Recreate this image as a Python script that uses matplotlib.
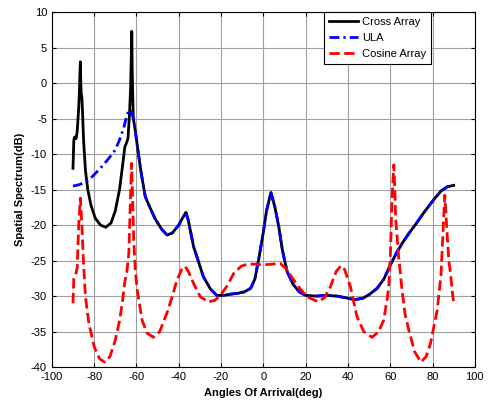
import matplotlib
matplotlib.use("Agg")
import matplotlib.pyplot as plt

plt.rcParams['font.family'] = ['Liberation Sans', 'DejaVu Sans']
plt.rcParams['axes.unicode_minus'] = False

# Cross Array spectrum (diverges from ULA only near the two left peaks)
cross_x = [-90, -89.6, -89.2, -88.5, -88, -87.3, -87, -86.7, -86.5, -86.3, -86.1, -85.8,
           -85.5, -85, -84.1, -83, -81.5, -79.5, -77, -74.5, -72, -70, -68, -66.5,
           -65.5, -64.8, -64, -63.3, -62.8, -62.4, -62.2, -62, -61.8, -61.5]
cross_y = [-12.0, -8.0, -7.6, -7.8, -6.8, -3.5, -1.5, 1.5, 3.0, 0.0, -1.5, -2.0,
           -4.0, -8.0, -12.3, -15.0, -17.2, -19.0, -20.0, -20.3, -19.7, -18.0, -15.0, -11.5,
           -9.0, -8.5, -7.8, -4.5, -1.0, 4.0, 7.3, 2.0, -1.0, -4.9]

# ULA spectrum
ula_x = [-90, -87, -84, -81, -78, -75, -72, -70, -68, -66, -64.5, -63.5, -62.5, -61.5,
         -60.5, -59.5, -58.2, -57, -55.8, -53.5, -51, -48, -45.5, -43, -40, -38, -36.6,
         -35.5, -33, -30.6, -28.3, -25, -22, -19, -15, -12, -9, -6, -4, -2, 0, 1.5, 3.6,
         5.5, 7.3, 9, 11.2, 14, 17, 20, 25, 30, 35, 40, 43, 47, 50, 53.8, 57, 60.1, 63,
         66, 69, 72, 76, 80.6, 84, 87, 90]
ula_y = [-14.5, -14.3, -13.9, -13.2, -12.3, -11.3, -10.2, -9.4, -8.0, -6.3, -4.5, -3.8,
         -4.0, -4.9, -6.8, -9.0, -11.8, -14.0, -16.0, -17.6, -19.2, -20.6, -21.4, -21.1,
         -20.0, -18.9, -18.2, -19.3, -23.0, -25.2, -27.3, -29.0, -29.9, -29.9, -29.7,
         -29.6, -29.4, -28.9, -27.6, -24.5, -21.0, -18.0, -15.4, -17.5, -20.2, -23.5,
         -26.5, -28.3, -29.4, -29.9, -30.0, -29.9, -30.0, -30.3, -30.5, -30.3, -29.8,
         -28.9, -27.6, -25.6, -23.9, -22.4, -21.1, -19.9, -18.2, -16.4, -15.2, -14.6, -14.4]

# Cosine Array spectrum
cos_x = [-90, -89.6, -88.8, -88, -87.3, -86.5, -85.8, -85, -84.1, -82.5, -80, -77.5, -75,
         -72.5, -70, -68, -66.7, -65.5, -64.5, -63.6, -63, -62.3, -61.8, -61.3, -60.5,
         -59.6, -57.3, -55, -52, -49, -45.6, -43, -40.8, -38.5, -37, -35.5, -33, -29.8,
         -26, -23, -20.3, -17, -14, -10.5, -7.7, -4, 0, 4, 8, 11, 14.3, 17.5, 20.7, 26,
         29, 31.7, 34.5, 36.8, 38.5, 41.2, 44.3, 47.5, 51.4, 54.5, 56.9, 58.5, 59.3, 60.1,
         60.9, 61.7, 62.2, 62.5, 64, 65.6, 67, 68.8, 71.5, 74.5, 77, 79, 82.2, 84, 84.8,
         85.8, 86.9, 87.7, 88.5, 89.3, 90]
cos_y = [-31.0, -27.5, -27.0, -26.0, -20.0, -16.2, -20.0, -25.4, -30.1, -33.8, -37.1,
         -38.8, -39.3, -38.5, -36.2, -33.5, -31.0, -28.0, -26.5, -24.0, -18.0, -11.3,
         -16.0, -22.0, -26.5, -29.2, -33.4, -35.2, -35.8, -35.0, -32.4, -30.0, -27.7,
         -26.2, -25.8, -26.5, -28.2, -30.1, -30.8, -30.6, -29.9, -28.5, -26.8, -25.8,
         -25.5, -25.5, -25.6, -25.5, -25.4, -26.2, -27.7, -29.0, -30.1, -30.8, -30.2,
         -28.7, -26.5, -25.7, -26.3, -28.7, -32.9, -35.0, -35.8, -35.0, -33.4, -30.5,
         -28.7, -24.0, -16.0, -11.5, -15.0, -18.8, -24.5, -29.2, -32.5, -34.8, -37.8,
         -39.3, -38.5, -36.7, -32.0, -27.0, -22.0, -15.8, -21.2, -24.9, -26.8, -29.2, -31.0]

x_ticks = [-100, -80, -60, -40, -20, 0, 20, 40, 60, 80, 100]
y_ticks = [10, 5, 0, -5, -10, -15, -20, -25, -30, -35, -40]

# The cross array follows the ULA curve once past the -62 deg peak
full_cross_x = cross_x + [x for x in ula_x if x > cross_x[-1]]
full_cross_y = cross_y + [y for x, y in zip(ula_x, ula_y) if x > cross_x[-1]]

fig = plt.figure(figsize=(4.89, 4.03), dpi=100)
ax = fig.add_axes([0.106, 0.089, 0.865, 0.881])

ax.plot(full_cross_x, full_cross_y, color='black', lw=2.0, label='Cross Array')
ax.plot(ula_x, ula_y, color='#0000ff', lw=2.0, dashes=(3.5, 1.5, 0.8, 1.5), label='ULA')
ax.plot(cos_x, cos_y, color='#ff0000', lw=2.0, linestyle='--', label='Cosine Array')

ax.set_xlim(-100, 100)
ax.set_ylim(-40, 10)
ax.set_xticks(x_ticks)
ax.set_yticks(y_ticks)
ax.grid(True, color='#a0a0a0', lw=0.8, linestyle='-')
ax.set_axisbelow(True)
ax.tick_params(direction='in', top=True, right=True, labelsize=8, length=3, width=0.8)
for s in ax.spines.values():
    s.set_linewidth(0.8)

ax.set_xlabel('Angles Of Arrival(deg)', fontsize=8, fontweight='bold', labelpad=4)
ax.set_ylabel('Spatial Spectrum(dB)', fontsize=8, fontweight='bold', labelpad=4)

leg = ax.legend(loc='upper right', bbox_to_anchor=(0.896, 1.0), borderaxespad=0,
                fancybox=False, framealpha=1, edgecolor='black', fontsize=8,
                handlelength=2.6, handletextpad=0.3, borderpad=0.45, labelspacing=0.55)
leg.get_frame().set_linewidth(0.8)

fig.savefig('out.png', dpi=100)
